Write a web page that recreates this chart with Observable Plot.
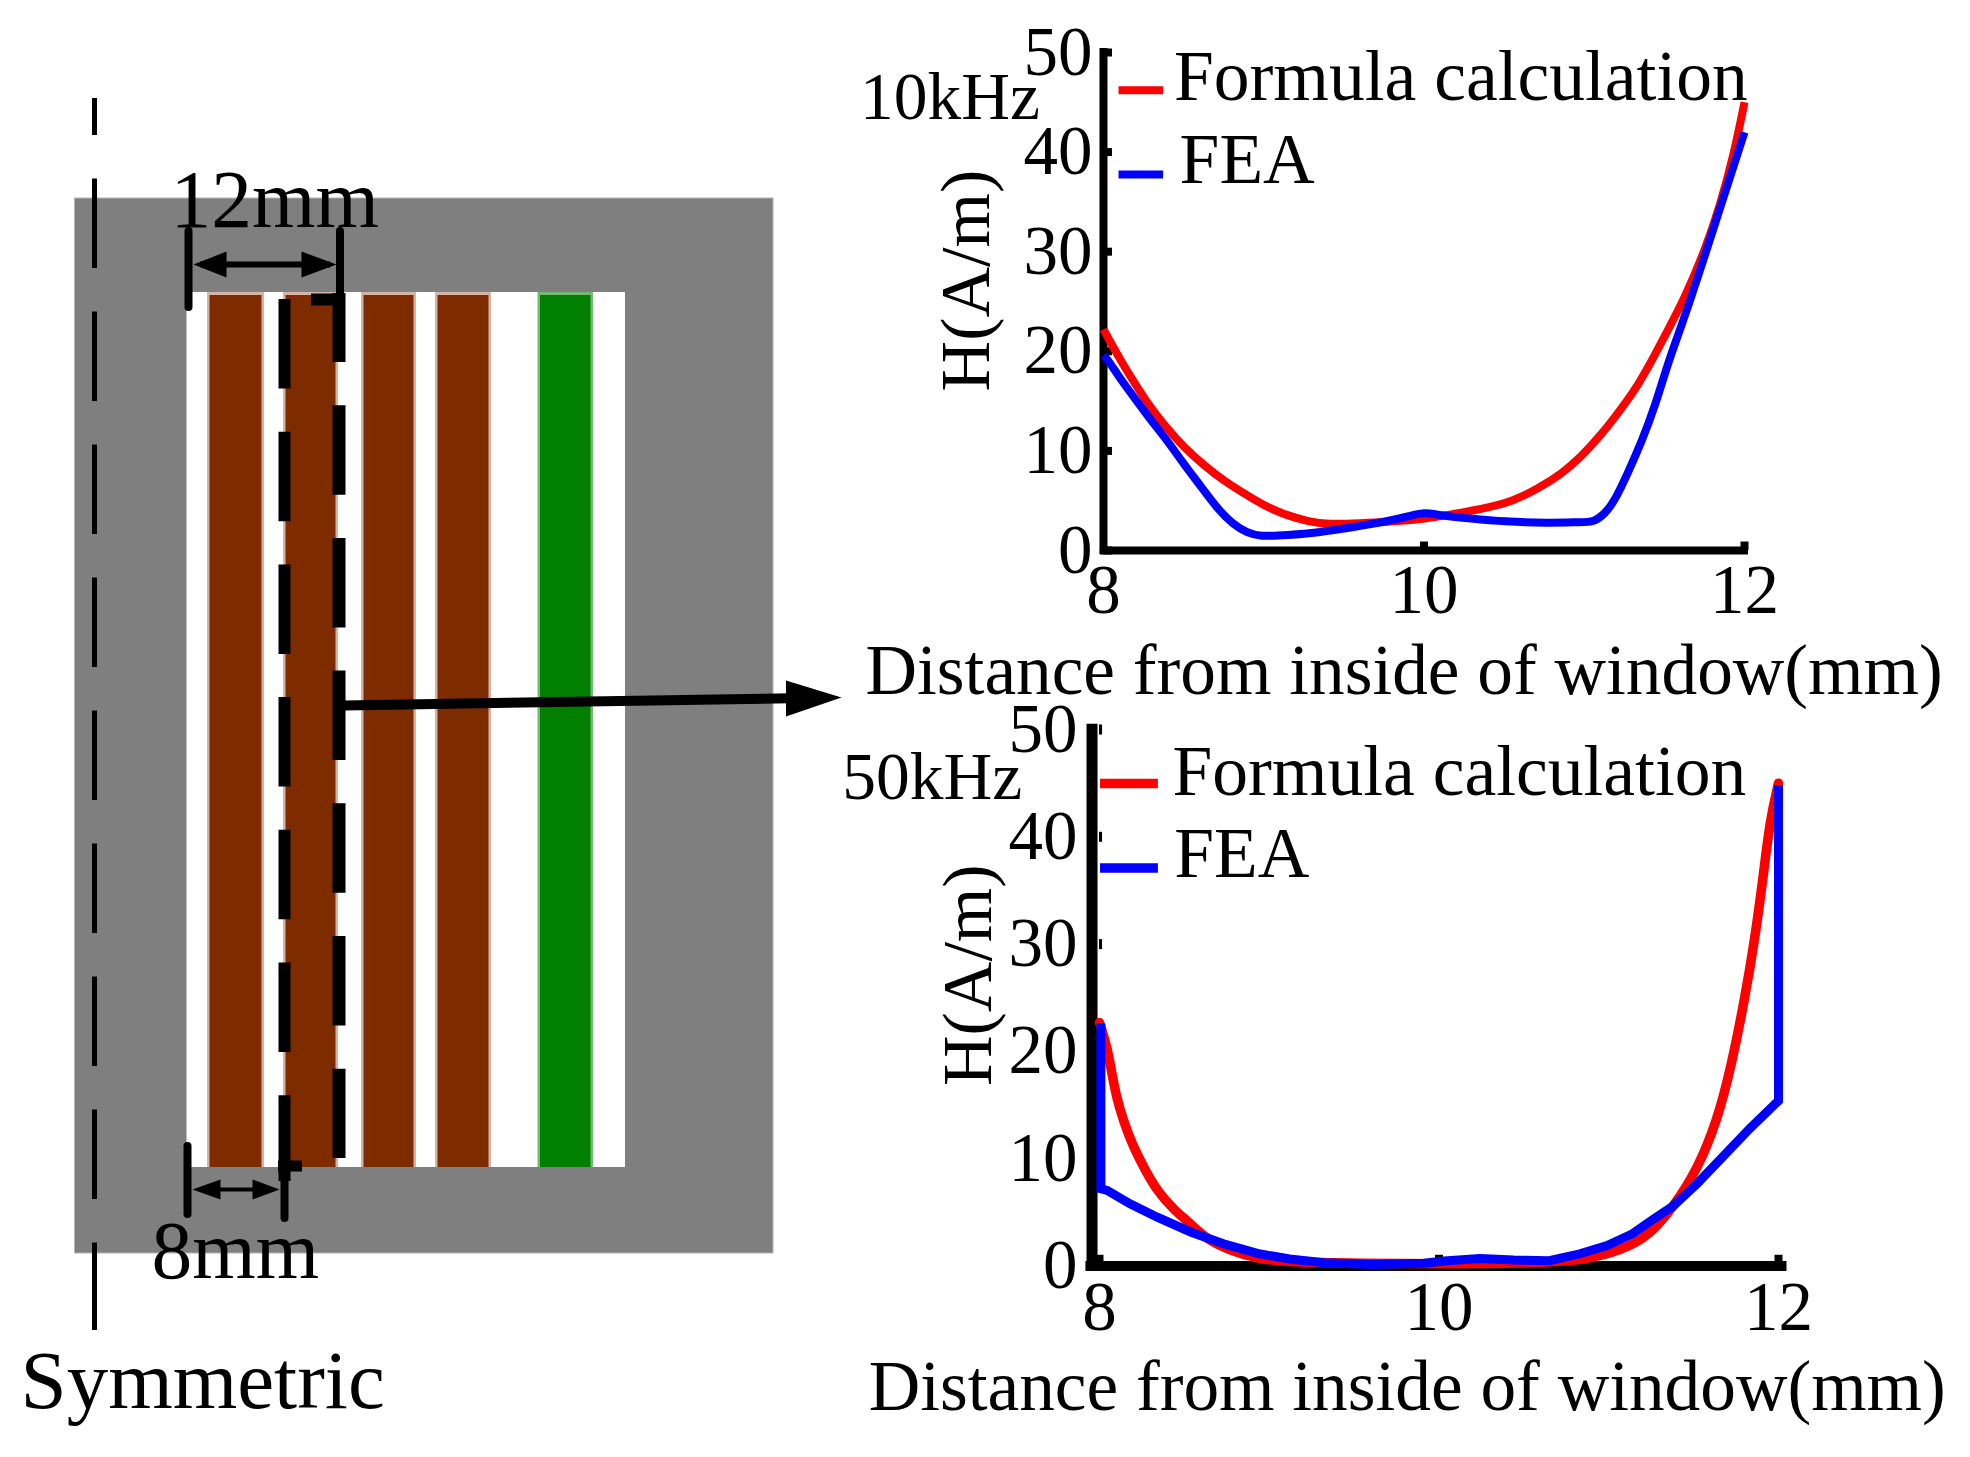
<!DOCTYPE html>
<html>
<head>
<meta charset="utf-8">
<script src="https://cdn.jsdelivr.net/npm/d3@7"></script>
<script src="https://cdn.jsdelivr.net/npm/@observablehq/plot@0.6"></script>
<style>
html,body{margin:0;padding:0;background:#fff;}
#stage{position:relative;width:1970px;height:1457px;overflow:hidden;background:#fff;}
#stage svg{position:absolute;overflow:visible;background:transparent;}
</style>
</head>
<body>
<div id="stage"></div>
<script>
const FONT = "Liberation Serif";
const RED = "#ff0000", BLUE = "#0000ff";
const SERIES = ["Formula calculation", "FEA"];
const xTickValues = [8, 10, 12];
const yTickValues = [0, 10, 20, 30, 40, 50];
const xTitle = "Distance from inside of window(mm)";
const yTitle = "H(A/m)";

// 10 kHz panel
const x10Formula = [8,8.02,8.106,8.19,8.29,8.4,8.5,8.63,8.75,8.9,9.02,9.15,9.27,9.4,9.61,9.75,10.02,10.19,10.4,10.56,10.71,10.86,10.98,11.11,11.23,11.34,11.44,11.52,11.62,11.76,11.85,11.93,12];
const y10Formula = [22.2,21.6,19.1,16.9,14.4,12.2,10.4,8.5,7,5.5,4.35,3.5,2.95,2.6,2.75,2.85,3.2,3.68,4.28,5,6.2,7.7,9.4,11.7,14.2,16.7,19.6,22.1,25.1,30.4,34.8,39.5,45];
const x10Fea = [8,8.03,8.106,8.19,8.29,8.4,8.5,8.61,8.71,8.81,8.9,8.97,9.15,9.34,9.54,9.75,9.92,10,10.11,10.29,10.5,10.77,10.98,11.06,11.13,11.19,11.27,11.36,11.44,11.52,11.59,11.66,11.72,11.9,12];
const y10Fea = [19.6,19.1,17.2,15.4,13.2,11,8.7,6.4,4.2,2.6,1.75,1.4,1.55,1.8,2.3,2.85,3.5,3.85,3.5,3.2,2.9,2.75,2.85,2.85,3.7,5,7.7,11,14.4,18.7,21.8,25.1,28,37,42];

// 50 kHz panel
const x50Formula = [8,8.045,8.07,8.1,8.14,8.19,8.27,8.34,8.44,8.54,8.63,8.77,8.93,9.12,9.52,10,10.55,10.87,11.08,11.24,11.38,11.52,11.64,11.72,11.8,11.86,11.91,11.95,12];
const y50Formula = [22.7,20.4,18.2,15.7,13.6,11.4,8.9,7,5.2,3.9,2.5,1.45,0.67,0.35,0.25,0.2,0.25,0.58,1.5,2.85,5.5,8.9,13.6,18.5,24.8,30.4,36.3,41.6,45];
const x50Fea = [8.008,8.008,8.045,8.18,8.34,8.54,8.73,8.93,9.12,9.32,9.61,9.91,10.03,10.24,10.44,10.65,10.83,10.99,11.14,11.28,11.38,11.52,11.67,11.83,12,12];
const y50Fea = [22.6,7.2,7.05,5.8,4.55,3.15,2.07,1.17,0.65,0.3,0.13,0.25,0.47,0.7,0.56,0.5,1.14,1.9,3,4.55,5.6,7.67,10.15,12.8,15.4,44.8];

// Schematic, in drawing units
const coreBox = [74.5, 198, 773, 1253];
const windowBox = [186.5, 292, 625, 1167];
const conductorLeft = [209, 285, 363, 437];
const conductorRight = [262, 336, 414, 489];
const shieldBox = [539, 591.5];

function pairs(xs, ys) { return xs.map((x, i) => ({x, y: ys[i]})); }

function panel(o) {
  return Plot.plot({
    width: o.w, height: o.h,
    marginLeft: o.ml, marginRight: o.mr, marginTop: o.mt, marginBottom: o.mb,
    x: {domain: [8, 12], axis: null},
    y: {domain: [0, 50], axis: null},
    style: {background: "transparent", fontFamily: FONT, color: "#000"},
    marks: [
      Plot.ruleX(xTickValues.slice(o.skipFirst), {x: d => d, y1: 0, y2: o.xTickLen, stroke: "#000", strokeWidth: o.xTickW}),
      Plot.ruleY(yTickValues, {y: d => d, x1: 8, x2: o.yTickEnd, stroke: "#000", strokeWidth: o.yTickW}),
      Plot.ruleX([o.axisX], {x: d => d, y1: o.axisY0, y2: o.axisY1, stroke: "#000", strokeWidth: o.axisXW}),
      Plot.ruleY([0], {y: d => d, x1: o.axisX0, x2: o.axisX1, stroke: "#000", strokeWidth: o.axisYW}),
      Plot.axisX({ticks: xTickValues, tickSize: 0, tickPadding: o.xPad, fontSize: 69, label: null, tickFormat: d => String(d)}),
      Plot.axisY({ticks: yTickValues, tickSize: 0, tickPadding: o.yPad, fontSize: 69, label: null, tickFormat: d => String(d)}),
      Plot.line(o.red, {x: "x", y: "y", stroke: RED, strokeWidth: o.redWidth, curve: o.redCurve, strokeLinecap: o.redCap, strokeLinejoin: "round"}),
      Plot.line(o.blue, {x: "x", y: "y", stroke: BLUE, strokeWidth: o.blueWidth, curve: o.blueCurve, strokeLinecap: "butt", strokeLinejoin: o.blueJoin, strokeMiterlimit: 10}),
      Plot.ruleY([o.swatchY[0]], {y: d => d, x1: o.swatchX[0], x2: o.swatchX[1], stroke: RED, strokeWidth: o.swatchW}),
      Plot.ruleY([o.swatchY[1]], {y: d => d, x1: o.swatchX[0], x2: o.swatchX[1], stroke: BLUE, strokeWidth: o.swatchW}),
      Plot.text([SERIES[0]], {x: o.legX[0], y: o.legY[0], text: d => d, textAnchor: "start", lineAnchor: "bottom", fontSize: 71.5}),
      Plot.text([SERIES[1]], {x: o.legX[1], y: o.legY[1], text: d => d, textAnchor: "start", lineAnchor: "bottom", fontSize: 71.5}),
      Plot.text([o.freq], {x: o.freqX, y: o.freqY, text: d => d, textAnchor: "start", lineAnchor: "bottom", fontSize: 67.5}),
      Plot.text([yTitle], {x: o.ytX, y: o.ytY, text: d => d, rotate: -90, textAnchor: "middle", lineAnchor: "bottom", fontSize: 70}),
      Plot.text([xTitle], {x: o.xtX, y: o.xtY, text: d => d, textAnchor: "start", lineAnchor: "bottom", fontSize: 71.3})
    ]
  });
}

function place(el, left, top) {
  el.style.left = left + "px";
  el.style.top = top + "px";
  document.getElementById("stage").appendChild(el);
}

// Schematic pieces
const triangles = [
  {id:"a",pts:[[193,264],[226,251],[226,277]]},
  {id:"b",pts:[[336,264],[301,251],[301,277]]},
  {id:"c",pts:[[192,1189],[220,1179],[220,1199]]},
  {id:"d",pts:[[279,1189],[252,1179],[252,1199]]},
  {id:"e",pts:[[841,697],[785.5,680],[785.5,716]]}
].flatMap(t => t.pts.map(p => ({id:t.id,x:p[0],y:p[1]})));

const schematic = Plot.plot({
  width: 850, height: 1457, margin: 0,
  x: {domain: [0, 850], axis: null},
  y: {domain: [1457, 0], axis: null},
  style: {background: "transparent", fontFamily: FONT, color: "#000"},
  marks: [
    Plot.rect([coreBox], {x1: d=>d[0], y1: d=>d[1], x2: d=>d[2], y2: d=>d[3], fill: "#7f7f7f", stroke: "#b4b4b4", strokeWidth: 1}),
    Plot.rect([windowBox], {x1: d=>d[0], y1: d=>d[1], x2: d=>d[2], y2: d=>d[3], fill: "#fff"}),
    // soft edges, then solid conductors
    Plot.rect(conductorLeft, {x1: d=>d-2, x2: (d,i)=>conductorRight[i]+2, y1: 292, y2: 1167, fill: "#7f2b00", fillOpacity: 0.35}),
    Plot.rect(conductorLeft, {x1: d=>d+0.5, x2: (d,i)=>conductorRight[i]-0.5, y1: 295, y2: 1167, fill: "#7f2b00"}),
    Plot.rect([shieldBox], {x1: d=>d[0]-1.5, x2: d=>d[1]+1.5, y1: 292, y2: 1167, fill: "#007f00", fillOpacity: 0.55}),
    Plot.rect([shieldBox], {x1: d=>d[0]+1, x2: d=>d[1]-1, y1: 295, y2: 1167, fill: "#007f00"}),
    // centre line
    Plot.ruleX([94], {x:d=>d, y1:98, y2:1330, stroke:"#000", strokeWidth:5, strokeDasharray:"89.5 43.5", strokeDashoffset:52.5}),
    // dashed region
    Plot.ruleX([284], {x:d=>d, y1:299, y2:1181, stroke:"#000", strokeWidth:12, strokeDasharray:"89.5 43.2"}),
    Plot.ruleX([338.5], {x:d=>d, y1:293, y2:1158, stroke:"#000", strokeWidth:13, strokeDasharray:"89.5 43.2", strokeDashoffset:20.5}),
    Plot.ruleY([299], {y:d=>d, x1:311, x2:345, stroke:"#000", strokeWidth:12}),
    Plot.ruleY([1165.5], {y:d=>d, x1:278, x2:302, stroke:"#000", strokeWidth:11}),
    // dimension ticks
    Plot.ruleX([188], {x:d=>d, y1:231, y2:307, stroke:"#000", strokeWidth:8, strokeLinecap:"round"}),
    Plot.ruleX([339.5], {x:d=>d, y1:231, y2:293, stroke:"#000", strokeWidth:8, strokeLinecap:"round"}),
    Plot.ruleX([187], {x:d=>d, y1:1146, y2:1214, stroke:"#000", strokeWidth:8, strokeLinecap:"round"}),
    Plot.ruleX([284], {x:d=>d, y1:1170, y2:1218, stroke:"#000", strokeWidth:8, strokeLinecap:"round"}),
    // dimension and leader shafts
    Plot.ruleY([264], {y:d=>d, x1:200, x2:330, stroke:"#000", strokeWidth:6}),
    Plot.ruleY([1189], {y:d=>d, x1:200, x2:270, stroke:"#000", strokeWidth:4}),
    Plot.link([0], {x1:344, y1:705, x2:790, y2:697.7, stroke:"#000", strokeWidth:10}),
    Plot.line(triangles, {x:"x", y:"y", z:"id", fill:"#000", stroke:"none"}),
    // labels
    Plot.text(["12mm"], {x:170, y:226, text:d=>d, textAnchor:"start", lineAnchor:"bottom", fontSize:81.5}),
    Plot.text(["8mm"], {x:151, y:1277, text:d=>d, textAnchor:"start", lineAnchor:"bottom", fontSize:81.5}),
    Plot.text(["Symmetric"], {x:20, y:1407, text:d=>d, textAnchor:"start", lineAnchor:"bottom", fontSize:83})
  ]
});
place(schematic, 0, 0);

const panel10 = panel({
  w: 1120, h: 720, ml: 253, mr: 226, mt: 52, mb: 170,
  redWidth: 8, blueWidth: 8, skipFirst: 1, redCap: "butt", blueJoin: "round", swatchW: 8,
  xTickLen: 0.85, xTickW: 8, yTickEnd: 8.056, yTickW: 8,
  axisX: 8, axisY0: -0.4, axisY1: 50.4, axisXW: 8,
  axisX0: 7.98, axisX1: 12.025, axisYW: 8,
  xPad: 13, yPad: 11,
  red: pairs(x10Formula, y10Formula), blue: pairs(x10Fea, y10Fea),
  redCurve: "basis", blueCurve: "basis",
  swatchY: [46.2, 37.75], swatchX: [8.097, 8.375],
  legX: [8.44, 8.475], legY: [45.25, 36.85],
  freq: "10kHz", freqX: 6.48, freqY: 43.3,
  ytX: 7.2875, ytY: 27.1,
  xtX: 6.515, xtY: -14.36
});
place(panel10, 850, 0);

const panel50 = panel({
  w: 1140, h: 757, ml: 269, mr: 192, mt: 29, mb: 191.5,
  redWidth: 9.5, blueWidth: 9, skipFirst: 0, redCap: "round", blueJoin: "miter", swatchW: 9.5,
  xTickLen: 1, xTickW: 8, yTickEnd: 8.018, yTickW: 10,
  axisX: 7.956, axisY0: -0.4, axisY1: 50.5, axisXW: 11,
  axisX0: 7.92, axisX1: 12.05, axisYW: 10,
  xPad: 14.5, yPad: 22,
  red: pairs(x50Formula, y50Formula), blue: pairs(x50Fea, y50Fea),
  redCurve: "basis", blueCurve: "linear",
  swatchY: [44.96, 37.1], swatchX: [8.006, 8.347],
  legX: [8.43, 8.44], legY: [43.9, 36.3],
  freq: "50kHz", freqX: 6.485, freqY: 43.5,
  ytX: 7.36, ytY: 27.1,
  xtX: 6.64, xtY: -13.4
});
place(panel50, 830, 700);
</script>
</body>
</html>
